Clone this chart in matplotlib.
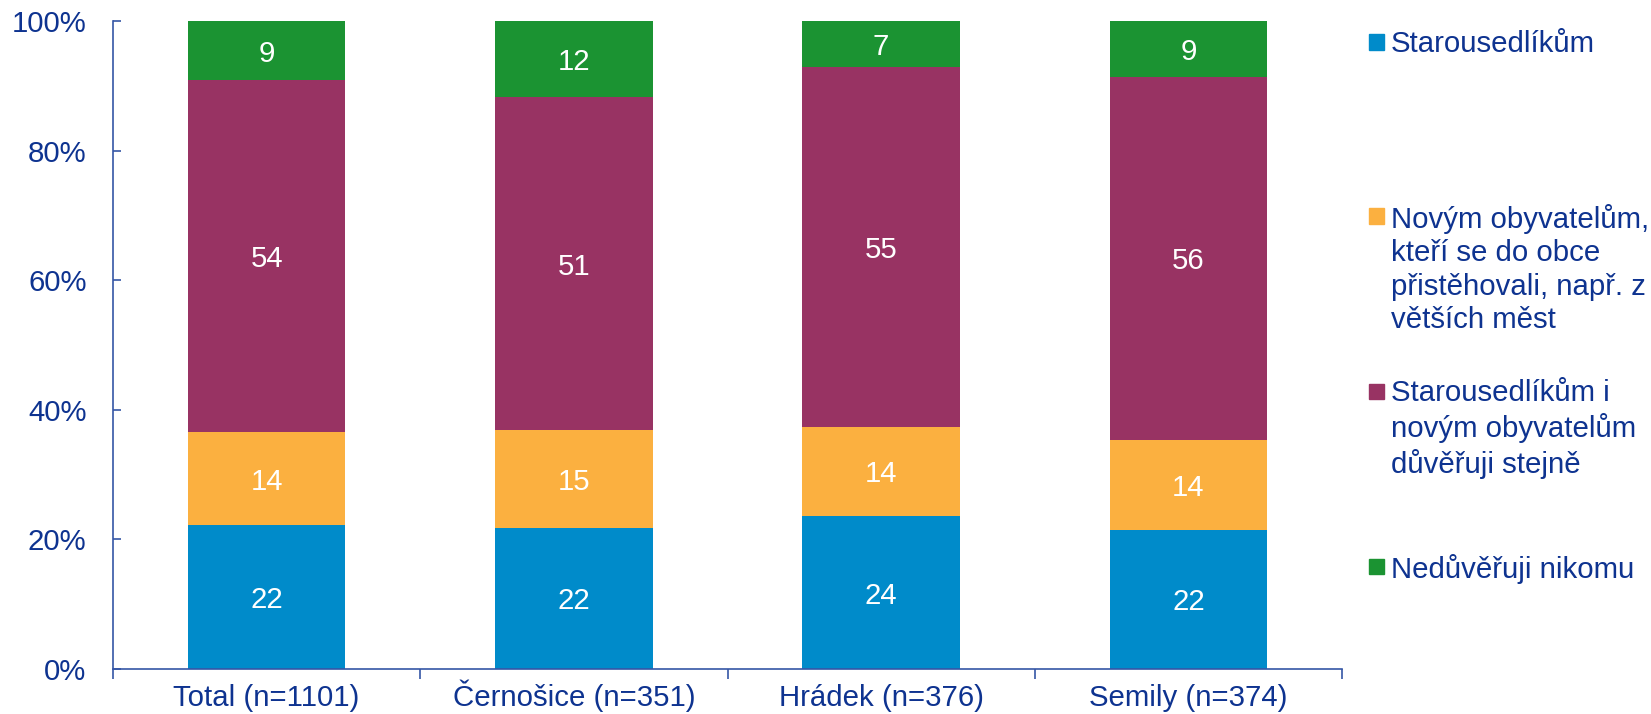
import matplotlib
matplotlib.use("Agg")
import matplotlib.pyplot as plt
import numpy as np

categories = ["Total (n=1101)", "Černošice (n=351)", "Hrádek (n=376)", "Semily (n=374)"]
series_names = [
    "Starousedlíkům",
    "Novým obyvatelům,\nkteří se do obce\npřistěhovali, např. z\nvětších měst",
    "Starousedlíkům i\nnovým obyvatelům\ndůvěřuji stejně",
    "Nedůvěřuji nikomu",
]
starousedlikum = [22.2, 21.8, 23.6, 21.5]
novym = [14.3, 15.1, 13.8, 13.9]
stejne = [54.35, 51.3, 55.45, 56.0]
nikomu = [9.15, 11.8, 7.15, 8.6]
series_values = [starousedlikum, novym, stejne, nikomu]
colors = ["#008BCA", "#FBB040", "#983363", "#1B9332"]
y_ticks = [0, 20, 40, 60, 80, 100]
y_tick_labels = ["0%", "20%", "40%", "60%", "80%", "100%"]

TEXT = "#0E3390"
SPINE = "#3556A6"
FS = 21.2
plt.rcParams["font.family"] = ["Liberation Sans", "DejaVu Sans"]

fig = plt.figure(figsize=(16.51, 7.14), dpi=100)
ax = fig.add_axes([113 / 1651, 1 - 669 / 714, (1342 - 113) / 1651, (669 - 21) / 714])

x = np.arange(len(categories))
bottom = np.zeros(len(categories))
for name, vals, col in zip(series_names, series_values, colors):
    ax.bar(x, vals, 0.513, bottom=bottom, color=col, edgecolor="none", label=name)
    for xi, b, v in zip(x, bottom, vals):
        ax.text(xi, b + v / 2, f"{v:.0f}", ha="center", va="center_baseline",
                color="white", fontsize=FS)
    bottom += np.array(vals)

ax.set_xlim(-0.5, len(categories) - 0.5)
ax.set_ylim(0, 100)
ax.set_yticks(y_ticks)
ax.set_yticklabels(y_tick_labels)
ax.set_xticks(np.arange(-0.5, len(categories), 1.0))
ax.set_xticklabels([])
ax.set_xticks(x, minor=True)
ax.set_xticklabels(categories, minor=True, va="baseline")
ax.tick_params(axis="x", which="major", direction="out", length=7, width=1.2, color=SPINE)
ax.tick_params(axis="x", which="minor", length=0, pad=27, labelsize=FS, labelcolor=TEXT)
ax.tick_params(axis="y", direction="in", length=6, width=1.2, color=SPINE,
               labelsize=FS, labelcolor=TEXT, pad=19)
for s in ["top", "right"]:
    ax.spines[s].set_visible(False)
for s in ["left", "bottom"]:
    ax.spines[s].set_color(SPINE)
    ax.spines[s].set_linewidth(1.2)

# legend (manually placed like the original)
first_line_y = [42, 216, 391, 566]
W, H = 1651, 714
for name, col, yy in zip(series_names, colors, first_line_y):
    fig.patches.append(plt.Rectangle(((1369) / W, 1 - (yy + 7.5) / H), 15 / W, 15 / H,
                                     transform=fig.transFigure, color=col, figure=fig))
    fig.text(1391 / W, 1 - (yy - 12) / H, name, fontsize=FS, color=TEXT,
             ha="left", va="top", linespacing=1.24)

fig.savefig("out.png", dpi=100)
